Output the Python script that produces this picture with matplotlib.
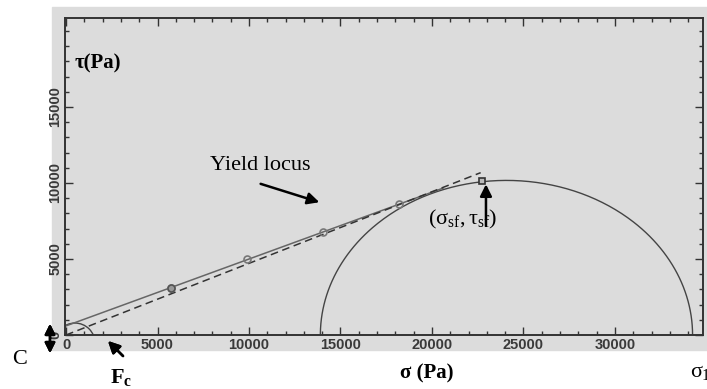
import numpy as np
import matplotlib
matplotlib.use("Agg")
import matplotlib.pyplot as plt
from matplotlib.patches import Rectangle, Arc

plt.rcParams['mathtext.fontset'] = 'custom'
plt.rcParams['mathtext.rm'] = 'Liberation Serif'
plt.rcParams['mathtext.it'] = 'Liberation Serif'
plt.rcParams['mathtext.bf'] = 'Liberation Serif:bold'

# --- data ---
sigma_pts = [5720, 9870, 14030, 18210]      # shear test points (Pa)
tau_pts = [3090, 4980, 6800, 8620]
sf_point = (22750, 10150)                   # (sigma_sf, tau_sf)

locus_sigma = [0, 20600]                    # solid yield locus
locus_tau = [600, 9660]
tangent_sigma = [0, 22660]                  # dashed line through origin
tangent_tau = [0, 10680]

circle_left = 13900                         # Mohr circle ends
circle_right = 34240

x_ticks = [0, 5000, 10000, 15000, 20000, 25000, 30000]
y_ticks = [0, 5000, 10000, 15000]

BG = '#dcdcdc'
W, H = 707, 389

def fx(px):
    return px / W

def fy(py):
    return 1 - py / H

fig = plt.figure(figsize=(7.07, 3.89), dpi=100)
fig.patches.append(Rectangle((fx(52), fy(350)), fx(707 - 52), (350 - 7) / H,
                             transform=fig.transFigure, color=BG, zorder=-5))

ax = fig.add_axes([fx(65), fy(335), fx(703 - 65), (335 - 18) / H])
ax.set_facecolor(BG)
ax.set_xlim(-55, 34810)
ax.set_ylim(0, 20855)

# Mohr circle
c = (circle_left + circle_right) / 2
r = (circle_right - circle_left) / 2
th = np.linspace(0, np.pi, 300)
ax.plot(c + r * np.cos(th), r * np.sin(th), color='#444444', lw=1.0)

# yield locus and tangent
ax.plot(locus_sigma, locus_tau, color='#666666', lw=1.1)
ax.plot(tangent_sigma, tangent_tau, color='#333333', lw=1.1, ls=(0, (5, 3)))
ax.plot(sigma_pts, tau_pts, 'o', ms=5, mfc='none', mec='#777777', mew=1.2)
ax.plot(sigma_pts[0], tau_pts[0], 'o', ms=5, mfc='#999999', mec='#555555', mew=1.2)
ax.plot(*sf_point, 's', ms=5, mfc='#bbbbbb', mec='#333333', mew=1.2)

# small angle arc near origin
ax.add_patch(Arc((490, -530), 2 * 1093, 2 * 1316, theta1=0, theta2=180,
                 color='#444444', lw=1.0))

# ticks
ax.set_xticks(x_ticks)
ax.set_yticks(y_ticks)
ax.set_xticks(np.arange(0, 35000, 1000), minor=True)
ax.set_yticks(np.arange(0, 21000, 1000), minor=True)
ax.tick_params(which='both', direction='in', top=True, right=True,
               colors='#333333', width=1.0)
ax.tick_params(which='major', length=6, pad=2, labelsize=10.5, labelcolor='#3a3a3a')
ax.tick_params(which='minor', length=3)
for lab in ax.get_yticklabels():
    lab.set_rotation(90)
    lab.set_va('center')
for lab in ax.get_xticklabels() + ax.get_yticklabels():
    lab.set_fontweight('bold')
    lab.set_family('Liberation Sans')
for s in ax.spines.values():
    s.set_color('#333333')
    s.set_linewidth(1.4)

# texts
serif = 'Liberation Serif'
fig.text(fx(75), fy(63), 'τ(Pa)', family=serif, fontweight='bold', fontsize=15,
         va='center', ha='left')
fig.text(fx(210), fy(165), 'Yield locus', family=serif, fontsize=16,
         va='center', ha='left')
fig.text(fx(428), fy(219), r'$(\sigma_{\rm sf},\tau_{\rm sf})$', fontsize=16,
         va='center', ha='left')
fig.text(fx(400), fy(373), 'σ (Pa)', family=serif, fontweight='bold', fontsize=15,
         va='center', ha='left')
fig.text(fx(690), fy(372), r'$\sigma_1$', fontsize=16, va='center', ha='left')
fig.text(fx(12), fy(360), 'C', family=serif, fontsize=16, va='center', ha='left')
fig.text(fx(110), fy(378), r'$\mathbf{F_c}$', fontsize=16, va='center', ha='left')

# arrows
arr = dict(arrowstyle='-|>,head_length=0.7,head_width=0.35', color='black', lw=1.8)
ax.annotate('', xy=(13990, 8680), xytext=(10490, 10000), arrowprops=arr)
ax.annotate('', xy=(22950, 10100), xytext=(22950, 7000), arrowprops=arr)
fig.add_artist(plt.annotate('', xy=(fx(106), fy(339)), xytext=(fx(125), fy(358)),
                            xycoords='figure fraction', textcoords='figure fraction',
                            arrowprops=arr, annotation_clip=False))
dbl = dict(arrowstyle='<|-|>,head_length=0.6,head_width=0.3', color='black', lw=1.8)
fig.add_artist(plt.annotate('', xy=(fx(50), fy(321)), xytext=(fx(50), fy(356)),
                            xycoords='figure fraction', textcoords='figure fraction',
                            arrowprops=dbl, annotation_clip=False))

fig.savefig('out.png', dpi=100)
